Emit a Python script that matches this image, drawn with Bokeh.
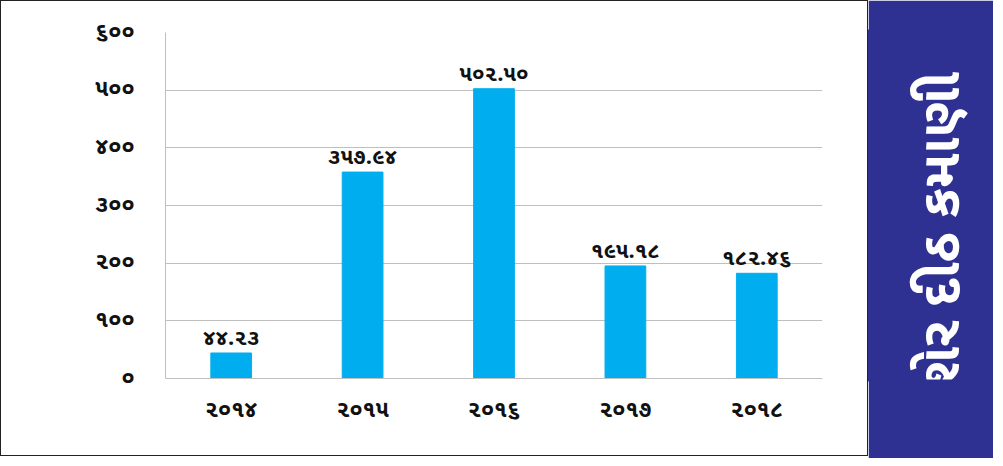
from bokeh.plotting import figure
from bokeh.layouts import row
from bokeh.models import ColumnDataSource, FixedTicker, Range1d
from bokeh.core.properties import value
from bokeh.embed import file_html
from bokeh.resources import INLINE
import math

years = ["૨૦૧૪", "૨૦૧૫", "૨૦૧૬", "૨૦૧૭", "૨૦૧૮"]
eps = [44.23, 357.94, 502.50, 195.18, 182.46]
eps_labels = ["૪૪.૨૩", "૩૫૭.૯૪", "૫૦૨.૫૦", "૧૯૫.૧૮", "૧૮૨.૪૬"]
y_ticks = [0, 100, 200, 300, 400, 500, 600]
y_tick_labels = ["૦", "૧૦૦", "૨૦૦", "૩૦૦", "૪૦૦", "૫૦૦", "૬૦૦"]
title_text = "શેર દીઠ કમાણી"

FONT = "Noto Sans Gujarati, Noto Sans, DejaVu Sans"
PANEL = "#2E3192"

src = ColumnDataSource(dict(x=years, top=eps, label=eps_labels))

p = figure(x_range=years, y_range=Range1d(0, 600), width=868, height=456,
           output_backend="svg", toolbar_location=None,
           min_border_left=164, min_border_right=47, min_border_top=31,
           min_border_bottom=79, background_fill_color="white",
           border_fill_color="white",
           styles={"border": "1px solid #222222"})
p.x_range.range_padding = 0
p.outline_line_color = None

p.vbar(x="x", top="top", width=0.31, source=src, color="#00AEEF")
p.text(x="x", y="top", text="label", source=src, text_align="center",
       text_baseline="bottom", y_offset=1, text_font=value(FONT),
       text_font_style="bold", text_font_size="22px", text_color="#111111")

p.yaxis.ticker = FixedTicker(ticks=y_ticks)
p.yaxis.major_label_overrides = {t: l for t, l in zip(y_ticks, y_tick_labels)}
p.yaxis.major_tick_line_color = None
p.yaxis.minor_tick_line_color = None
p.yaxis.axis_line_color = "#BFBFBF"
p.yaxis.major_label_standoff = 25
p.yaxis.major_label_text_font = FONT
p.yaxis.major_label_text_font_style = "bold"
p.yaxis.major_label_text_font_size = "23px"
p.yaxis.major_label_text_color = "#111111"

p.xaxis.major_tick_line_color = None
p.xaxis.minor_tick_line_color = None
p.xaxis.axis_line_color = "#BFBFBF"
p.xaxis.major_label_standoff = 11
p.xaxis.major_label_text_font = FONT
p.xaxis.major_label_text_font_style = "bold"
p.xaxis.major_label_text_font_size = "23px"
p.xaxis.major_label_text_color = "#111111"

p.xgrid.grid_line_color = None
p.ygrid.grid_line_color = "#BFBFBF"
p.ygrid.grid_line_width = 1

panel = figure(width=125, height=458, x_range=Range1d(0, 1), y_range=Range1d(0, 1),
               output_backend="svg", toolbar_location=None,
               min_border=0, background_fill_color=PANEL,
               border_fill_color=PANEL)
panel.outline_line_color = PANEL
panel.outline_line_width = 4
panel.axis.visible = False
panel.grid.visible = False
panel.text(x=[0.5], y=[0.43], text=[title_text], angle=math.pi / 2,
           text_align="center", text_baseline="middle", x_offset=14,
           text_font=value(FONT), text_font_style="bold",
           text_font_size="55px", text_color="white")

layout = row(p, panel, spacing=0)
open("out.html", "w").write(file_html(layout, INLINE))
